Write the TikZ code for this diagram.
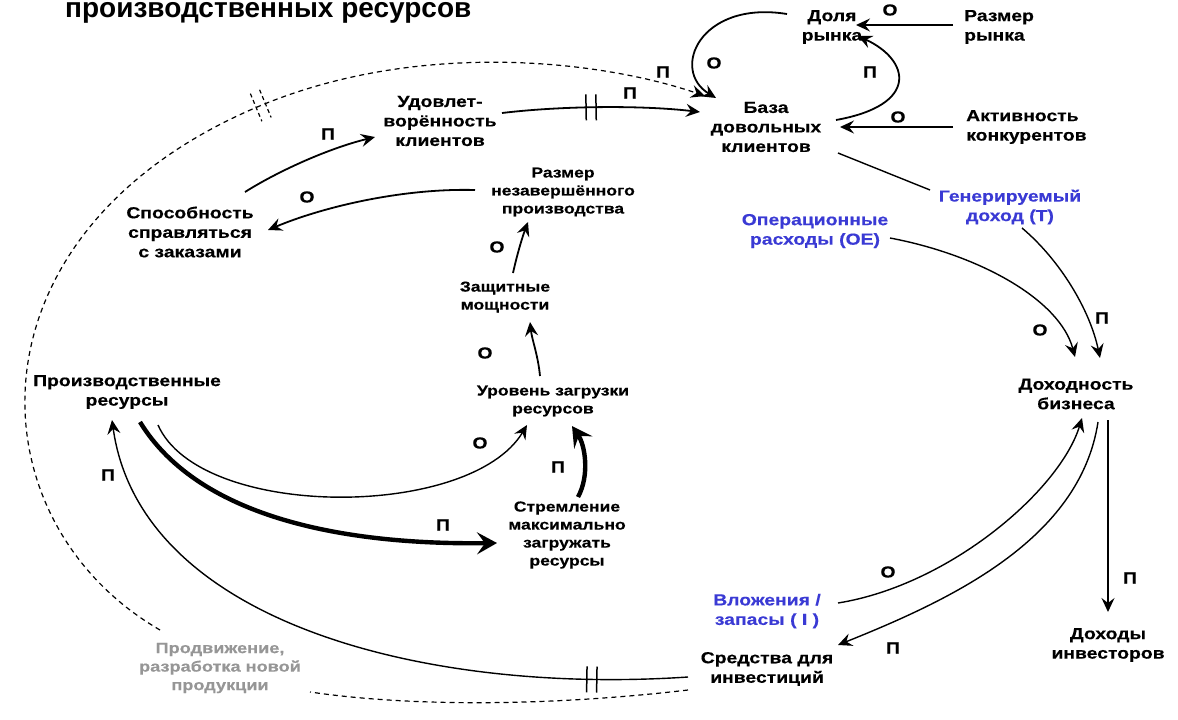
\documentclass[tikz,border=0pt]{standalone}
\usepackage{fontspec}
\setmainfont[FakeStretch=1.21, BoldFeatures={FakeBold=0.35}]{Liberation Sans}
\newfontfamily\headingfont{Liberation Sans}
\usetikzlibrary{arrows.meta,calc,decorations.markings}
\definecolor{termblue}{RGB}{58,58,212}
\definecolor{termgrey}{RGB}{150,150,150}
\begin{document}
\begin{tikzpicture}[x=1pt,y=-1pt,
  lbl/.style={font=\fontsize{16}{19.5}\selectfont\bfseries, align=center, inner sep=1pt},
  lblsm/.style={font=\fontsize{14.5}{18}\selectfont\bfseries, align=center, inner sep=1pt},
  blueterm/.style={lbl, text=termblue},
  sign/.style={font=\fontsize{16}{18}\selectfont\bfseries, inner sep=0pt},
  tip/.style={-{Stealth[length=14pt,width=13pt,inset=5pt]}},
  link/.style={line width=1.8pt, tip},
  thinlink/.style={line width=1.4pt, tip},
  heavylink/.style={line width=4.4pt, -{Stealth[length=20pt,width=22pt,inset=8pt]}},
  promolink/.style={line width=1.2pt, dash pattern=on 5pt off 4pt},
  delaybars/.style={postaction={decorate}, decoration={markings,
    mark=at position #1 with {\draw[arrows=-, line width=1.5pt, solid] (-5,-13)--(-5,13) (5,-13)--(5,13);}}},
  dasheddelay/.style={postaction={decorate}, decoration={markings,
    mark=at position #1 with {\draw[arrows=-, line width=1.2pt, dash pattern=on 4pt off 3pt] (-5,-15)--(-5,15) (5,-15)--(5,15);}}}
]
\useasboundingbox (0,0) rectangle (1178,720);

% heading
\node[anchor=base west, font=\headingfont\fontsize{28}{30}\selectfont\bfseries, inner sep=0pt] (title) at (65,17) {производственных ресурсов};

% variables
\node[lbl] (dolya) at (832,27) {Доля\\рынка};
\node[lbl, align=left, anchor=west] (rmarket) at (963,27) {Размер\\рынка};
\node[lbl] (baza) at (766,127) {База\\довольных\\клиентов};
\node[lbl, align=left, anchor=west] (aktiv) at (965,127) {Активность\\конкурентов};
\node[lbl] (udov) at (440,121) {Удовлет-\\ворённость\\клиентов};
\node[lblsm] (wip) at (563,192) {Размер\\незавершённого\\производства};
\node[lbl] (sposob) at (190,232) {Способность\\справляться\\с заказами};
\node[lblsm] (zash) at (505,297) {Защитные\\мощности};
\node[lblsm] (uroven) at (553,401) {Уровень загрузки\\ресурсов};
\node[lbl] (prores) at (127,392) {Производственные\\ресурсы};
\node[lblsm] (strem) at (567,535) {Стремление\\максимально\\загружать\\ресурсы};
\node[blueterm] (gen) at (1010,207) {Генерируемый\\доход (T)};
\node[blueterm] (opex) at (815,231) {Операционные\\расходы (OE)};
\node[lbl] (dohodn) at (1076,394) {Доходность\\бизнеса};
\node[blueterm] (vlozh) at (767,611) {Вложения /\\запасы ( I )};
\node[lbl] (invest) at (1108,645) {Доходы\\инвесторов};
\node[lbl] (sredstva) at (767,669) {Средства для\\инвестиций};
\node[lbl, text=termgrey, font=\fontsize{15}{18.5}\selectfont\bfseries] (promo) at (220,668) {Продвижение,\\разработка новой\\продукции};

% market loop
\draw[link] ($(rmarket.west)+(-10,-2)$) -- ($(dolya)+(24,-2)$);
\draw[link] ($(aktiv.west)+(-12,0)$) -- ($(baza)+(74,0)$);
\draw[link] ($(baza)+(70,-7)$) .. controls (920,105) and (910,60) .. ($(dolya)+(26,9)$);
\draw[link] ($(dolya)+(-45,-13)$) .. controls (700,0) and (670,70) .. ($(baza)+(-50,-29)$);
\draw[link, delaybars=0.45] ($(udov)+(62,-8)$) .. controls (560,106) and (640,105) .. ($(baza)+(-66,-15)$);

% production loop
\draw[link] ($(sposob)+(55,-40)$) .. controls (280,170) and (330,148) .. ($(udov)+(-65,16)$);
\draw[link] ($(wip)+(-88,-2)$) .. controls (400,188) and (320,208) .. ($(sposob)+(78,-2)$);
\draw[link] ($(zash)+(8,-24)$) .. controls (517,255) and (522,238) .. ($(wip)+(-35,30)$);
\draw[link] ($(uroven)+(-13,-25)$) .. controls (538,355) and (532,340) .. ($(zash)+(25,25)$);
\draw[heavylink] ($(strem)+(11,-38)$) .. controls (590,475) and (585,445) .. ($(uroven)+(19,25)$);
\draw[thinlink] ($(prores)+(31,33)$) .. controls (200,520) and (470,520) .. ($(uroven)+(-26,24)$);
\draw[heavylink] ($(prores)+(13,30)$) .. controls (200,520) and (350,545) .. ($(strem)+(-70,8)$);
\draw[thinlink, delaybars=0.14] ($(sredstva)+(-79,8)$) .. controls (420,695) and (140,620) .. ($(prores)+(-15,28)$);

% promotion (dashed)
\draw[promolink] ($(sredstva)+(-79,21)$) .. controls (560,705) and (420,708) .. ($(promo)+(90,24)$);
\draw[promolink, tip, dasheddelay=0.6] ($(promo)+(-60,-38)$) .. controls (-30,520) and (-40,230) .. (262,105) .. controls (420,40) and (600,60) .. ($(baza)+(-61,-31)$);

% finance
\draw[line width=1.4pt] ($(baza)+(72,26)$) -- ($(gen)+(-80,-17)$);
\draw[thinlink] ($(opex)+(75,7)$) .. controls (980,255) and (1060,300) .. ($(dohodn)+(-1,-37)$);
\draw[thinlink] ($(gen)+(12,21)$) .. controls (1060,260) and (1090,310) .. ($(dohodn)+(24,-36)$);
\draw[thinlink] ($(dohodn)+(32,26)$) -- ($(invest)+(0,-33)$);
\draw[thinlink] ($(vlozh)+(71,-8)$) .. controls (950,585) and (1060,490) .. ($(dohodn)+(6,24)$);
\draw[thinlink] ($(dohodn)+(22,28)$) .. controls (1080,540) and (950,600) .. ($(sredstva)+(71,-24)$);

% link polarities
\node[sign] (p1) at (890,10) {О};
\node[sign] (p2) at (898,117) {О};
\node[sign] (p3) at (870,72) {П};
\node[sign] (p4) at (714,63) {О};
\node[sign] (p5) at (663,72) {П};
\node[sign] (p6) at (630,93) {П};
\node[sign] (p7) at (328,134) {П};
\node[sign] (p8) at (307,197) {О};
\node[sign] (p9) at (497,247) {О};
\node[sign] (p10) at (485,353) {О};
\node[sign] (p11) at (480,443) {О};
\node[sign] (p12) at (558,467) {П};
\node[sign] (p13) at (443,525) {П};
\node[sign] (p14) at (108,475) {П};
\node[sign] (p15) at (1040,330) {О};
\node[sign] (p16) at (1102,318) {П};
\node[sign] (p17) at (1130,578) {П};
\node[sign] (p18) at (888,572) {О};
\node[sign] (p19) at (893,648) {П};
\end{tikzpicture}
\end{document}
